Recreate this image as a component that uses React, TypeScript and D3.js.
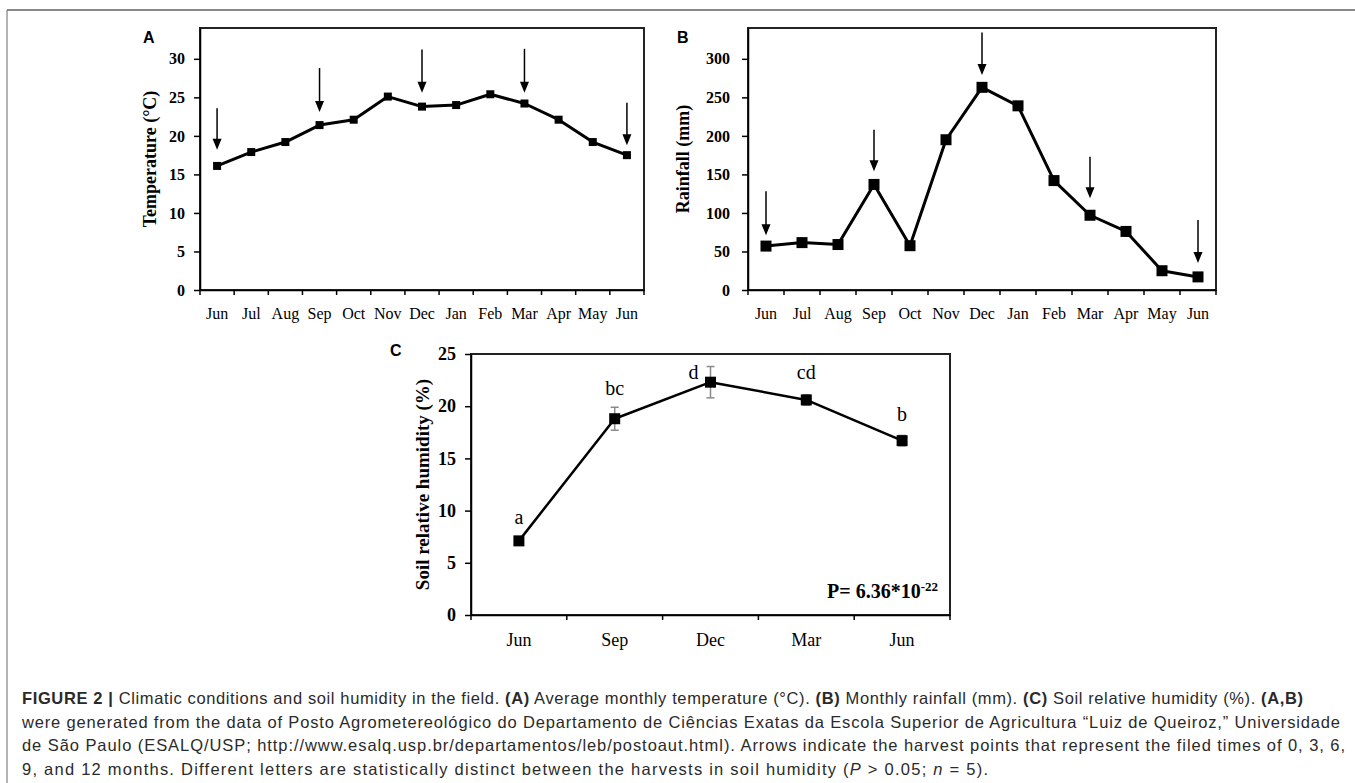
import React, { useEffect, useRef } from "react"
import * as d3 from "d3"

// --- data ---
const monthsAB = ["Jun", "Jul", "Aug", "Sep", "Oct", "Nov", "Dec", "Jan", "Feb", "Mar", "Apr", "May", "Jun"]
const temperature = [16.1, 17.9, 19.2, 21.4, 22.1, 25.1, 23.8, 24.0, 25.4, 24.2, 22.1, 19.2, 17.5]
const rainfall = [57, 61.5, 59, 137, 57.5, 195, 263, 239, 142, 97, 76, 25, 17]
const tempTicks = [0, 5, 10, 15, 20, 25, 30]
const rainTicks = [0, 50, 100, 150, 200, 250, 300]

// harvest arrows (month index, arrow tail value, arrow tip value)
const harvestIdx = [0, 3, 6, 9, 12]
const tempArrowTail = [23.6, 28.8, 31.2, 31.3, 24.3]
const tempArrowTip = [18.2, 23.1, 25.6, 25.6, 18.8]
const rainArrowTail = [128, 208, 334, 173, 91]
const rainArrowTip = [71, 154, 279, 119, 35]

const monthsC = ["Jun", "Sep", "Dec", "Mar", "Jun"]
const humidity = [7.1, 18.8, 22.3, 20.6, 16.7]
const humidityErr = [0.4, 1.1, 1.5, 0.5, 0.5]
const letters = ["a", "bc", "d", "cd", "b"]
const letterLevel = [8.7, 21.1, 22.6, 22.6, 18.6]
const humTicks = [0, 5, 10, 15, 20, 25]

const serif = "'Liberation Serif', 'Times New Roman', serif"
const sans = "'Liberation Sans', Arial, sans-serif"

function YAxis(props: any) {
  const ref = useRef<SVGGElement>(null)
  useEffect(() => {
    const g = d3.select(ref.current!)
    g.call(d3.axisLeft(props.scale).tickValues(props.ticks).tickSize(6).tickSizeOuter(0).tickPadding(props.pad))
    g.attr("font-family", null).attr("font-size", null)
    g.select(".domain").attr("stroke", "#000").attr("stroke-width", 1.5)
    g.selectAll(".tick line").attr("stroke", "#000").attr("stroke-width", 1.5)
    g.selectAll(".tick text")
      .attr("font-family", serif)
      .attr("font-weight", "bold")
      .attr("font-size", props.fontSize)
      .attr("fill", "#000")
  }, [])
  return <g ref={ref} transform={"translate(" + props.x + ",0)"} />
}

function XAxis(props: any) {
  const ref = useRef<SVGGElement>(null)
  useEffect(() => {
    const g = d3.select(ref.current!)
    g.call(
      d3.axisBottom(props.scale)
        .tickSize(0)
        .tickSizeOuter(0)
        .tickPadding(props.pad)
        .tickFormat((i: any) => props.labels[i])
    )
    g.attr("font-family", null).attr("font-size", null)
    g.select(".domain").attr("stroke", "#000").attr("stroke-width", 1.5)
    g.selectAll(".tick text")
      .attr("font-family", serif)
      .attr("font-size", props.fontSize)
      .attr("fill", "#000")
  }, [])
  return <g ref={ref} transform={"translate(0," + props.y + ")"} />
}

function Panel(props: any) {
  const { left, right, top, bottom, yMax, labels, values } = props
  const x = d3.scaleBand<number>().domain(d3.range(labels.length)).range([left, right]).padding(0)
  const y = d3.scaleLinear().domain([0, yMax]).range([bottom, top])
  const cx = (i: number) => x(i)! + x.bandwidth() / 2
  const line = d3.line<number>().x((d, i) => cx(i)).y(d => y(d))
  const s = props.marker
  const bounds = d3.range(labels.length + 1).map(i => left + i * x.step())

  return (
    <g>
      <rect x={left} y={top} width={right - left} height={bottom - top} fill="none" stroke="#222" strokeWidth={2} />
      {bounds.map((b, i) => (
        <line key={i} x1={b} x2={b} y1={bottom} y2={bottom + 5} stroke="#000" strokeWidth={1.5} />
      ))}
      <YAxis scale={y} x={left} ticks={props.ticks} pad={props.yPad} fontSize={props.tickFont} />
      <XAxis scale={x} y={bottom} labels={labels} pad={props.xPad} fontSize={props.xFont} />
      <text
        transform={"translate(" + props.titleX + "," + (top + bottom) / 2 + ") rotate(-90)"}
        textAnchor="middle"
        dominantBaseline="central"
        fontFamily={serif}
        fontWeight="bold"
        fontSize={props.titleFont}
      >
        {props.title}
      </text>
      <text x={props.tagX} y={props.tagY} fontFamily={sans} fontWeight="bold" fontSize={16}>
        {props.tag}
      </text>

      {props.errors &&
        values.map((v: number, i: number) => (
          <g key={"e" + i} stroke="#8a8a8a" strokeWidth={1.5}>
            <line x1={cx(i)} x2={cx(i)} y1={y(v - props.errors[i])} y2={y(v + props.errors[i])} />
            <line x1={cx(i) - 4} x2={cx(i) + 4} y1={y(v - props.errors[i])} y2={y(v - props.errors[i])} />
            <line x1={cx(i) - 4} x2={cx(i) + 4} y1={y(v + props.errors[i])} y2={y(v + props.errors[i])} />
          </g>
        ))}

      <path d={line(values)!} fill="none" stroke="#000" strokeWidth={props.lineWidth} strokeLinejoin="round" />
      {values.map((v: number, i: number) => (
        <rect key={"m" + i} x={cx(i) - s / 2} y={y(v) - s / 2} width={s} height={s} fill="#000" />
      ))}

      {props.arrowIdx &&
        props.arrowIdx.map((k: number, j: number) => {
          const ax = cx(k)
          const y1 = y(props.arrowTail[j])
          const y2 = y(props.arrowTip[j])
          return (
            <g key={"a" + j}>
              <line x1={ax} x2={ax} y1={y1} y2={y2 - 8} stroke="#000" strokeWidth={1.5} />
              <path d={`M${ax - 4.5},${y2 - 11}L${ax + 4.5},${y2 - 11}L${ax},${y2}Z`} fill="#000" />
            </g>
          )
        })}

      {props.letters &&
        props.letters.map((l: string, i: number) => (
          <text
            key={"l" + i}
            x={cx(i) + (l === "d" ? -17 : 0)}
            y={y(props.letterLevel[i])}
            textAnchor="middle"
            fontFamily={serif}
            fontSize={20}
          >
            {l}
          </text>
        ))}
      {props.children}
    </g>
  )
}

export default function App() {
  return (
    <svg width={1355} height={783} style={{ position: "absolute", left: 0, top: 0, background: "#fff" }}>
      <line x1={7} x2={1355} y1={10} y2={10} stroke="#888" strokeWidth={2} />
      <line x1={7} x2={7} y1={10} y2={783} stroke="#666" strokeWidth={1} />

      <Panel
        left={200} right={644} top={28} bottom={290} yMax={34}
        labels={monthsAB} values={temperature} ticks={tempTicks}
        marker={8} lineWidth={3}
        yPad={9} xPad={18} tickFont={16} xFont={16}
        title="Temperature (°C)" titleX={150} titleFont={18}
        tag="A" tagX={143} tagY={43}
        arrowIdx={harvestIdx} arrowTail={tempArrowTail} arrowTip={tempArrowTip}
      />
      <Panel
        left={748} right={1216} top={28} bottom={290} yMax={340}
        labels={monthsAB} values={rainfall} ticks={rainTicks}
        marker={11} lineWidth={3}
        yPad={12} xPad={18} tickFont={16} xFont={16}
        title="Rainfall (mm)" titleX={683} titleFont={18}
        tag="B" tagX={677} tagY={43}
        arrowIdx={harvestIdx} arrowTail={rainArrowTail} arrowTip={rainArrowTip}
      />
      <Panel
        left={471} right={950} top={354} bottom={615} yMax={25}
        labels={monthsC} values={humidity} ticks={humTicks}
        marker={11} lineWidth={2.5}
        yPad={9} xPad={18} tickFont={18} xFont={18}
        title="Soil relative humidity (%)" titleX={422} titleFont={19}
        tag="C" tagX={390} tagY={356}
        errors={humidityErr} letters={letters} letterLevel={letterLevel}
      >
        <text x={938} y={598} textAnchor="end" fontFamily={serif} fontWeight="bold" fontSize={20}>
          P= 6.36*10<tspan dy={-7} fontSize={13}>-22</tspan>
        </text>
      </Panel>

      <g fontFamily={sans} fontSize={16.5} fill="#2a2a2a">
        <text x={22} y={704} textLength={1281} lengthAdjust="spacing">
          <tspan fontWeight="bold">FIGURE 2 |</tspan> Climatic conditions and soil humidity in the field.{" "}
          <tspan fontWeight="bold">(A)</tspan> Average monthly temperature (°C). <tspan fontWeight="bold">(B)</tspan>{" "}
          Monthly rainfall (mm). <tspan fontWeight="bold">(C)</tspan> Soil relative humidity (%).{" "}
          <tspan fontWeight="bold">(A,B)</tspan>
        </text>
        <text x={22} y={727.5} textLength={1318} lengthAdjust="spacing">
          were generated from the data of Posto Agrometereológico do Departamento de Ciências Exatas da Escola Superior de
          Agricultura “Luiz de Queiroz,” Universidade
        </text>
        <text x={22} y={751} textLength={1323} lengthAdjust="spacing">
          de São Paulo (ESALQ/USP; http://www.esalq.usp.br/departamentos/leb/postoaut.html). Arrows indicate the harvest
          points that represent the filed times of 0, 3, 6,
        </text>
        <text x={22} y={774.5} textLength={966} lengthAdjust="spacing">
          9, and 12 months. Different letters are statistically distinct between the harvests in soil humidity (
          <tspan fontStyle="italic">P</tspan> &gt; 0.05; <tspan fontStyle="italic">n</tspan> = 5).
        </text>
      </g>
    </svg>
  )
}
